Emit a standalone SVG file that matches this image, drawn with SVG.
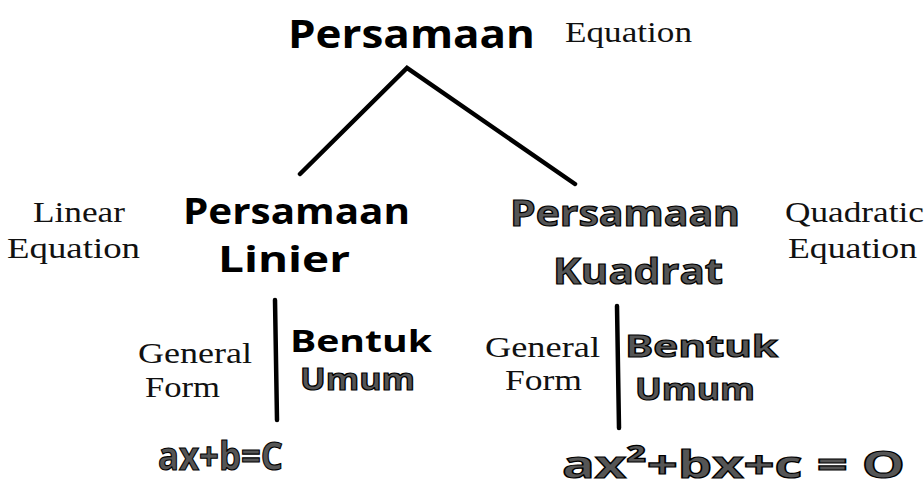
<svg xmlns="http://www.w3.org/2000/svg" width="924" height="492" viewBox="0 0 924 492">
<style>
.hw{font-family:"Open Sans","DejaVu Sans",sans-serif;font-weight:700;fill:#000}
.hol{fill:#555;stroke:#000;stroke-width:1.2}
.en{font-family:"Liberation Serif","Times New Roman",serif;font-size:29px;fill:#111}
.ln{stroke:#000;stroke-width:4.5;stroke-linecap:round;fill:none}
</style>
<rect width="924" height="492" fill="#fff"/>
<g id="connectors">
<path class="ln" d="M300,174 L407,68 L575,184"/>
<line class="ln" x1="275" y1="300" x2="277" y2="420"/>
<line class="ln" x1="617" y1="306" x2="619" y2="428"/>
</g>
<g id="root">
<text class="hw" x="288" y="48" font-size="40" textLength="247" lengthAdjust="spacingAndGlyphs">Persamaan</text>
<text class="en" x="565" y="42" textLength="127" lengthAdjust="spacingAndGlyphs">Equation</text>
</g>
<g id="linear">
<text class="en" x="33" y="222" textLength="92" lengthAdjust="spacingAndGlyphs">Linear</text>
<text class="en" x="7" y="258" textLength="133" lengthAdjust="spacingAndGlyphs">Equation</text>
<text class="hw" x="183" y="224" font-size="36" textLength="227" lengthAdjust="spacingAndGlyphs">Persamaan</text>
<text class="hw" x="218" y="272" font-size="36" textLength="132" lengthAdjust="spacingAndGlyphs">Linier</text>
</g>
<g id="quadratic">
<text class="hw hol" x="510" y="226" font-size="36" textLength="230" lengthAdjust="spacingAndGlyphs">Persamaan</text>
<text class="hw hol" x="553" y="284" font-size="36" textLength="170" lengthAdjust="spacingAndGlyphs">Kuadrat</text>
<text class="en" x="785" y="222" textLength="139" lengthAdjust="spacingAndGlyphs">Quadratic</text>
<text class="en" x="788" y="258" textLength="129" lengthAdjust="spacingAndGlyphs">Equation</text>
</g>
<g id="linear-general">
<text class="en" x="138" y="363" textLength="114" lengthAdjust="spacingAndGlyphs">General</text>
<text class="en" x="145" y="397" textLength="75" lengthAdjust="spacingAndGlyphs">Form</text>
<text class="hw" x="290" y="352" font-size="30" textLength="142" lengthAdjust="spacingAndGlyphs">Bentuk</text>
<text class="hw hol" x="300" y="390" font-size="30" textLength="115" lengthAdjust="spacingAndGlyphs">Umum</text>
<text class="hw hol" x="158" y="470" font-size="40" textLength="125" lengthAdjust="spacingAndGlyphs">ax+b=C</text>
</g>
<g id="quadratic-general">
<text class="en" x="485" y="357" textLength="115" lengthAdjust="spacingAndGlyphs">General</text>
<text class="en" x="505" y="390" textLength="77" lengthAdjust="spacingAndGlyphs">Form</text>
<text class="hw hol" x="625" y="357" font-size="31" textLength="153" lengthAdjust="spacingAndGlyphs">Bentuk</text>
<text class="hw hol" x="635" y="400" font-size="31" textLength="120" lengthAdjust="spacingAndGlyphs">Umum</text>
<text class="hw hol" x="562" y="478" font-size="38" textLength="343" lengthAdjust="spacingAndGlyphs">ax²+bx+c = O</text>
</g>
</svg>
